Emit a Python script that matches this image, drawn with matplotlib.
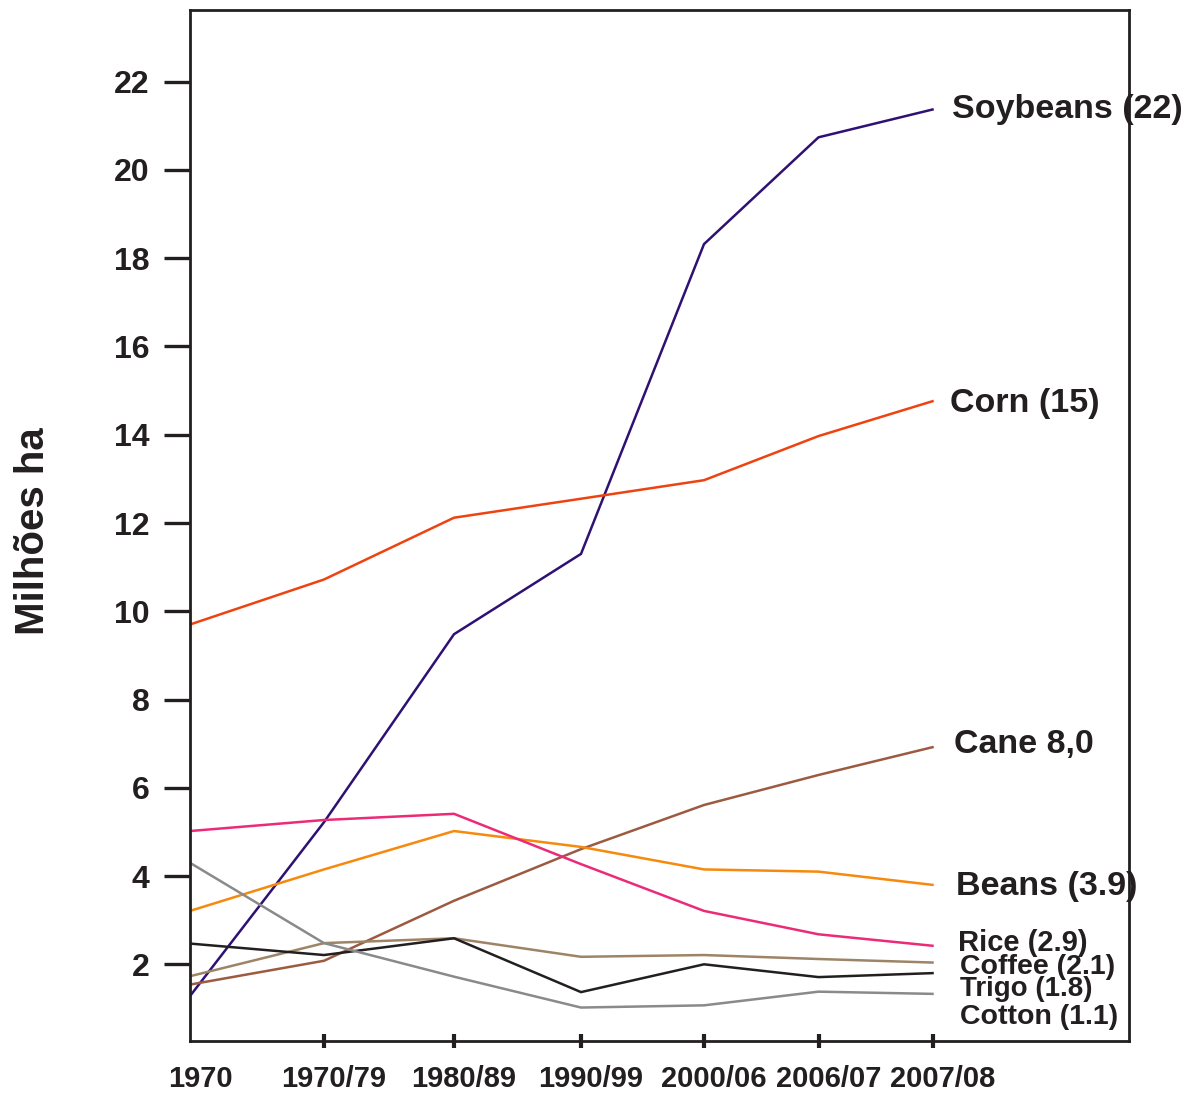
import matplotlib
matplotlib.use('Agg')
import matplotlib.pyplot as plt
import matplotlib.transforms as mtransforms

plt.rcParams['font.family'] = ['Liberation Sans', 'DejaVu Sans']

# periods on the x axis and their (uneven) positions
periods = ['1970', '1970/79', '1980/89', '1990/99', '2000/06', '2006/07', '2007/08']
x_pos = [0, 134, 264, 391, 514, 628.5, 742.5]

# area in million ha
soybeans = [1.28, 5.22, 9.48, 11.30, 18.32, 20.74, 21.37]
corn = [9.70, 10.72, 12.12, 12.55, 12.97, 13.97, 14.76]
cane = [1.54, 2.08, 3.44, 4.61, 5.61, 6.29, 6.92]
beans = [3.21, 4.15, 5.02, 4.66, 4.15, 4.10, 3.80]
rice = [5.02, 5.27, 5.41, 4.27, 3.21, 2.68, 2.42]
coffee = [1.73, 2.48, 2.59, 2.17, 2.21, 2.12, 2.04]
trigo = [2.47, 2.21, 2.59, 1.37, 2.00, 1.71, 1.80]
cotton = [4.30, 2.48, 1.72, 1.02, 1.07, 1.38, 1.33]

labels = ['Soybeans (22)', 'Corn (15)', 'Cane 8,0', 'Beans (3.9)',
          'Rice (2.9)', 'Coffee (2.1)', 'Trigo (1.8)', 'Cotton (1.1)']
yticks = [2, 4, 6, 8, 10, 12, 14, 16, 18, 20, 22]

dark = '#231F20'
# (values, colour, label size, label offset in px: right, up)
series = [
    (soybeans, '#2E1172', 24.5, (19, 0)),
    (corn, '#EE4310', 24.5, (17, -2)),
    (cane, '#9C5A40', 24.5, (21, 3)),
    (beans, '#F7890C', 24.5, (24, -2)),
    (rice, '#EC2B78', 21, (26, 3)),
    (coffee, '#9E8466', 20.5, (28, -4)),
    (trigo, dark, 20, (28, -16)),
    (cotton, '#8A8A8A', 20.5, (28, -23)),
]

fig = plt.figure(figsize=(11.91, 10.93), dpi=100)
ax = fig.add_axes([190 / 1191, 1 - 1041 / 1093, 939 / 1191, 1031 / 1093])

for (vals, color, fs, off), lab in zip(series, labels):
    ax.plot(x_pos, vals, color=color, lw=1.8, solid_joinstyle='miter')
    ax.annotate(lab, xy=(x_pos[-1], vals[-1]), xytext=off,
                textcoords='offset pixels', ha='left', va='center',
                fontsize=fs, fontweight='bold', color=dark,
                annotation_clip=False)

ax.set_xlim(0, 939)
ax.set_ylim(0.262, 23.625)
ax.set_yticks(yticks)
ax.set_yticklabels([str(v) for v in yticks], fontsize=23, fontweight='bold', color=dark)
ax.set_xticks(x_pos)
ax.set_xticklabels(periods, fontsize=21, fontweight='bold', color=dark)

ax.tick_params(axis='y', direction='out', length=19, width=2.4, color=dark, pad=10)
ax.tick_params(axis='x', direction='inout', length=10, width=3, color=dark, pad=12)
ax.xaxis.get_major_ticks()[0].tick1line.set_visible(False)

shift = mtransforms.ScaledTranslation(10 / 100, 0, fig.dpi_scale_trans)
for t in ax.get_xticklabels():
    t.set_transform(t.get_transform() + shift)

for s in ax.spines.values():
    s.set_linewidth(2)
    s.set_color(dark)

fig.text(33 / 1191, 1 - 531 / 1093, 'Milhões ha', rotation=90, ha='center', va='center',
         fontsize=29, fontweight='bold', color=dark)

fig.savefig('out.png', dpi=100)
